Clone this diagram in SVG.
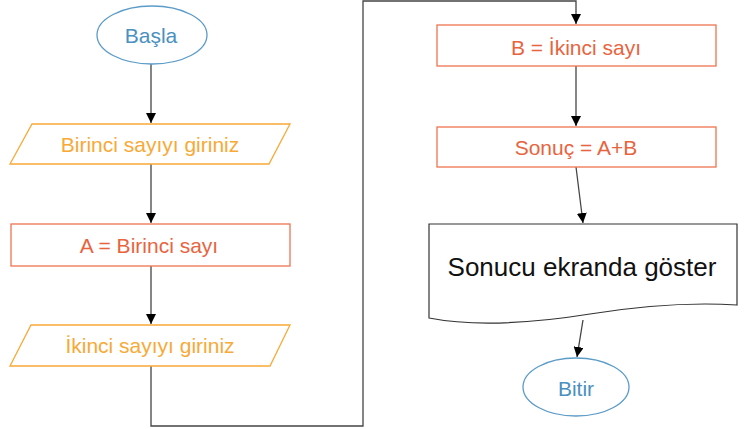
<svg xmlns="http://www.w3.org/2000/svg" width="744" height="429" viewBox="0 0 744 429">
<style>
.t{font-family:"Liberation Sans",Arial,sans-serif;text-anchor:middle}
.term{fill:#fff;stroke:#5b9bc8;stroke-width:1.3}
.termt{fill:#4a90c0;font-size:21px}
.io{fill:#fff;stroke:#f8a936;stroke-width:1.3}
.iot{fill:#f8a936;font-size:21px}
.pr{fill:#fff;stroke:#ee7450;stroke-width:1.3}
.prt{fill:#e8643e;font-size:21px}
.doc{fill:#fff;stroke:#333;stroke-width:1.2}
.doct{fill:#111;font-size:26px}
.c{fill:none;stroke:#444;stroke-width:1.3}
</style>
<defs>
<marker id="ah" viewBox="0 0 10 10" refX="10" refY="5" markerWidth="10" markerHeight="10" markerUnits="userSpaceOnUse" orient="auto">
<path d="M0,0 L10,5 L0,10 z" fill="#000"/>
</marker>
</defs>
<rect width="744" height="429" fill="#fff"/>
<g id="connectors">
<line class="c" x1="151" y1="64" x2="151" y2="123" marker-end="url(#ah)"/>
<line class="c" x1="151" y1="164" x2="151" y2="223" marker-end="url(#ah)"/>
<line class="c" x1="151" y1="266" x2="151" y2="324" marker-end="url(#ah)"/>
<polyline class="c" points="151,366 151,426 363,426 363,1 576,1 576,24" marker-end="url(#ah)"/>
<line class="c" x1="576" y1="66" x2="576" y2="126" marker-end="url(#ah)"/>
<line class="c" x1="576" y1="167" x2="583" y2="223" marker-end="url(#ah)"/>
<line class="c" x1="583" y1="320" x2="577" y2="357" marker-end="url(#ah)"/>
</g>
<g id="basla">
<ellipse class="term" cx="152" cy="35" rx="55" ry="29"/>
<text class="t termt" x="151" y="43">Başla</text>
</g>
<g id="birinci-giris">
<polygon class="io" points="32,124 290,124 269,164 10,164"/>
<text class="t iot" x="150" y="152">Birinci sayıyı giriniz</text>
</g>
<g id="a-atama">
<rect class="pr" x="11" y="224" width="279" height="42"/>
<text class="t prt" x="149" y="253">A = Birinci sayı</text>
</g>
<g id="ikinci-giris">
<polygon class="io" points="31,325 290,325 270,366 10,366"/>
<text class="t iot" x="150" y="353">İkinci sayıyı giriniz</text>
</g>
<g id="b-atama">
<rect class="pr" x="437" y="25" width="279" height="41"/>
<text class="t prt" x="576" y="55">B = İkinci sayı</text>
</g>
<g id="sonuc">
<rect class="pr" x="437" y="127" width="279" height="40"/>
<text class="t prt" x="576" y="155">Sonuç = A+B</text>
</g>
<g id="goster">
<path class="doc" d="M429,224 H737 V305 C690,302 640,306 590,314 C540,322 480,328 429,318 Z"/>
<text class="t doct" x="582" y="276">Sonucu ekranda göster</text>
</g>
<g id="bitir">
<ellipse class="term" cx="576" cy="387" rx="53" ry="29"/>
<text class="t termt" x="576" y="396">Bitir</text>
</g>
</svg>
